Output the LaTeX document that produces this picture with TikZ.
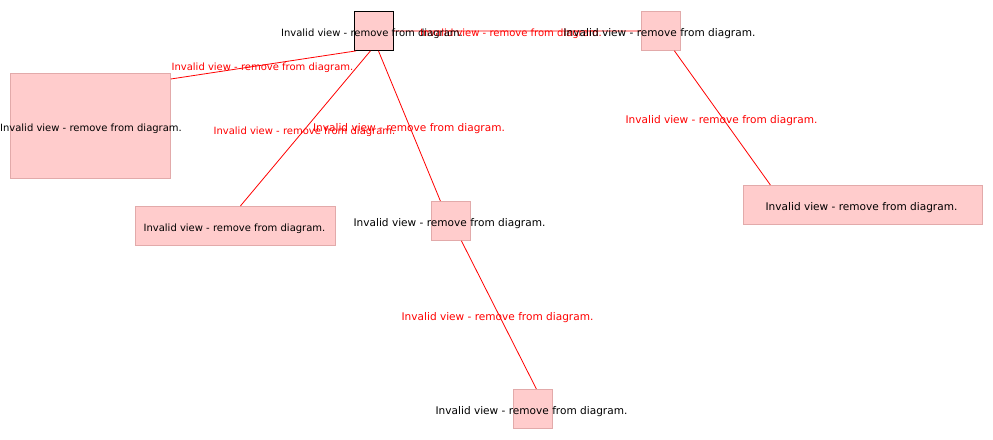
\documentclass[tikz,border=0pt]{standalone}
\usepackage{fontspec}
\setmainfont{DejaVu Sans}
\begin{document}
\begin{tikzpicture}[x=1pt,y=-1pt,
  view/.style={draw=boxborder,fill=boxfill,line width=0.8pt,inner sep=0pt,anchor=north west},
  sel/.style={draw=black,fill=boxfill,line width=0.9pt,inner sep=0pt,anchor=north west},
  txt/.style={font=\fontsize{10.55}{12}\selectfont,text=black,inner sep=0pt,yshift=-1.5pt},
  ntxt/.style={font=\fontsize{10}{12}\selectfont,text=black,inner sep=0pt,yshift=-1.5pt},
  etxt/.style={font=\fontsize{10.55}{12}\selectfont,text=red,inner sep=0pt,yshift=-1.5pt},
  netxt/.style={font=\fontsize{10}{12}\selectfont,text=red,inner sep=0pt,yshift=-1.5pt},
  conn/.style={draw=red,line width=0.8pt}]
\definecolor{boxfill}{HTML}{FFCCCC}
\definecolor{boxborder}{HTML}{E2AAAA}
\useasboundingbox[fill=white] (0,0) rectangle (993,439);
% boxes
\node[view,minimum width=160pt,minimum height=105pt] (C) at (10,73) {};
\node[view,minimum width=200pt,minimum height=39pt] (D) at (135,206) {};
\node[view,minimum width=39pt,minimum height=39pt] (E) at (431,201) {};
\node[view,minimum width=39pt,minimum height=39pt] (B) at (641,11) {};
\node[view,minimum width=239pt,minimum height=39pt] (F) at (743,185) {};
\node[view,minimum width=39pt,minimum height=39pt] (G) at (513,389) {};
\node[sel,minimum width=39pt,minimum height=39pt] (A) at (354,11) {};
% connectors
\draw[conn] (A.east) -- (B.west);
\draw[conn] ([xshift=2pt]A.south west) -- ([yshift=-6pt]C.north east);
\draw[conn] ([xshift=-3.5pt]A.south) -- ([xshift=5pt]D.north);
\draw[conn] ([xshift=4.5pt]A.south) -- ([xshift=-10.5pt]E.north);
\draw[conn] ([xshift=13.5pt]B.south) -- ([xshift=-92.5pt]F.north);
\draw[conn] ([xshift=10.5pt]E.south) -- ([xshift=3.5pt]G.north);
% edge labels
\node[netxt] (lAB) at (511,32) {Invalid view - remove from diagram.};
\node[netxt] (lAC) at (262.5,66) {Invalid view - remove from diagram.};
\node[netxt] (lAD) at (304.5,130) {Invalid view - remove from diagram.};
\node[etxt] (lAE) at (409,127) {Invalid view - remove from diagram.};
\node[etxt] (lBF) at (721.5,119) {Invalid view - remove from diagram.};
\node[etxt] (lEG) at (497.5,316) {Invalid view - remove from diagram.};
% node labels
\node[ntxt] (tA) at (372,32) {Invalid view - remove from diagram.};
\node[txt] (tB) at (659.5,32) {Invalid view - remove from diagram.};
\node[ntxt] (tC) at (91,127) {Invalid view - remove from diagram.};
\node[ntxt] (tD) at (234.5,227) {Invalid view - remove from diagram.};
\node[txt] (tE) at (449.5,222) {Invalid view - remove from diagram.};
\node[txt] (tF) at (861.5,206) {Invalid view - remove from diagram.};
\node[txt] (tG) at (531.5,410) {Invalid view - remove from diagram.};
\end{tikzpicture}
\end{document}
